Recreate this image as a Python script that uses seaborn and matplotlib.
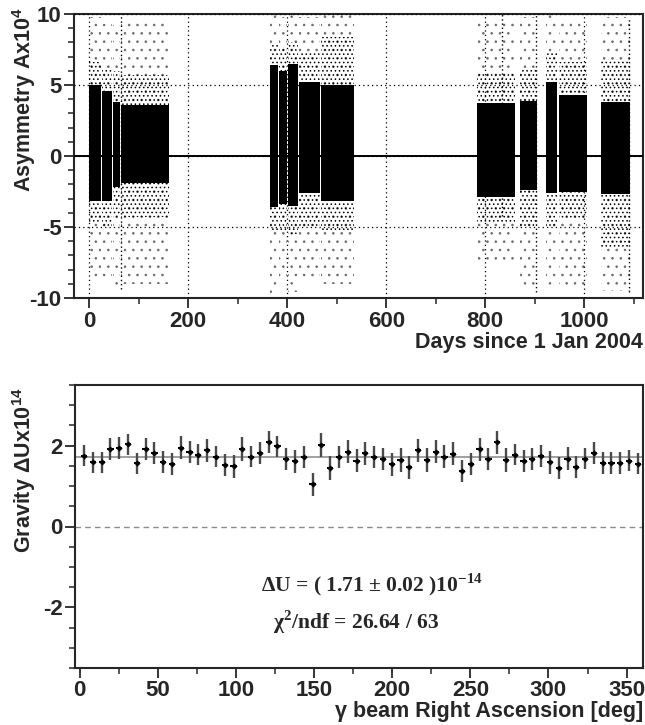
import numpy as np
import seaborn as sns
from matplotlib import pyplot as plt
from matplotlib.ticker import MultipleLocator

# ---- top panel: data-taking periods (days since 1 Jan 2004) and spread of the asymmetry cloud (x1e4)
run_start = [0, 26, 48, 64, 365, 383, 402, 423, 469, 783, 871, 923, 950, 1034]
run_end = [24, 46, 62, 160, 381, 400, 421, 467, 534, 860, 904, 946, 1005, 1092]
core_lo = [-3.2, -3.2, -2.2, -1.9, -3.6, -3.4, -3.5, -2.6, -3.2, -2.9, -2.4, -2.6, -2.5, -2.7]
core_hi = [5.0, 4.6, 3.8, 3.6, 6.4, 6.0, 6.5, 5.2, 5.0, 3.7, 3.9, 5.2, 4.3, 3.8]
halo_lo = [-4.8, -5.0, -4.5, -4.3, -5.3, -5.3, -5.5, -5.0, -5.3, -4.8, -5.0, -5.0, -4.5, -6.4]
halo_hi = [6.6, 6.2, 6.0, 5.7, 7.8, 7.6, 8.0, 7.4, 8.4, 5.8, 6.1, 7.4, 6.6, 6.8]
tail_lo = [-8.6, -8.8, -9.2, -9.0, -9.8, -8.5, -9.6, -8.8, -9.0, -7.5, -9.2, -9.4, -9.3, -9.5]
tail_hi = [9.8, 9.3, 9.2, 9.6, 9.9, 9.8, 9.9, 9.8, 9.9, 9.5, 9.8, 9.9, 9.6, 9.8]
streak_day = [63, 834, 902, 1091]
streak_lo = [-9.4, -4.2, -9.6, -9.6]
streak_hi = [10.0, 10.0, 10.0, 9.8]

# ---- bottom panel: gravity potential shift per RA bin (x1e14)
n_bins = 64
du = [1.75, 1.59, 1.59, 1.91, 1.94, 2.03, 1.57, 1.91, 1.81, 1.59, 1.55, 1.95, 1.85, 1.78, 1.88,
      1.73, 1.52, 1.49, 1.92, 1.73, 1.81, 2.08, 1.98, 1.67, 1.61, 1.72, 1.04, 2.02, 1.45, 1.72, 1.85,
      1.63, 1.81, 1.72, 1.67, 1.54, 1.65, 1.46, 1.88, 1.65, 1.85, 1.73, 1.80, 1.37, 1.54, 1.91, 1.67,
      2.08, 1.65, 1.78, 1.63, 1.67, 1.75, 1.59, 1.45, 1.68, 1.47, 1.68, 1.82, 1.57, 1.57, 1.57, 1.63, 1.55]
du_err = [0.26, 0.26, 0.26, 0.27, 0.27, 0.26, 0.26, 0.27, 0.27, 0.27, 0.27, 0.28, 0.27, 0.27, 0.28,
          0.27, 0.28, 0.28, 0.29, 0.27, 0.27, 0.27, 0.27, 0.27, 0.28, 0.27, 0.28, 0.30, 0.30, 0.27, 0.29,
          0.29, 0.29, 0.28, 0.28, 0.29, 0.29, 0.28, 0.28, 0.29, 0.29, 0.28, 0.29, 0.28, 0.27, 0.29, 0.28,
          0.28, 0.29, 0.27, 0.27, 0.27, 0.27, 0.28, 0.28, 0.28, 0.28, 0.27, 0.27, 0.27, 0.28, 0.27, 0.26, 0.26]
fit_value = 1.71
ra_edges = np.linspace(0, 360, n_bins + 1)
ra_center = 0.5 * (ra_edges[:-1] + ra_edges[1:])

sns.set_style("ticks")
plt.rcParams["font.family"] = ["Liberation Sans", "DejaVu Sans"]
plt.rcParams["font.weight"] = "bold"
plt.rcParams["axes.unicode_minus"] = False
plt.rcParams["mathtext.fontset"] = "custom"
plt.rcParams["mathtext.sf"] = "Liberation Sans:bold"
plt.rcParams["mathtext.rm"] = "Liberation Serif:bold"
plt.rcParams["hatch.linewidth"] = 0.6

fig = plt.figure(figsize=(6.45, 7.25), dpi=100)
ax1 = fig.add_axes([74 / 645, 1 - 298 / 725, 569 / 645, 284 / 725])
ax2 = fig.add_axes([75 / 645, 1 - 668 / 725, 568 / 645, 283 / 725])

# ---- top panel
start = np.array(run_start)
width = np.array(run_end) - start
ax1.bar(start, np.array(tail_hi) - np.array(tail_lo), width=width, bottom=tail_lo, align="edge",
        color="none", edgecolor="#6a6a6a", hatch="..", linewidth=0, zorder=2)
ax1.bar(start, np.array(halo_hi) - np.array(halo_lo), width=width, bottom=halo_lo, align="edge",
        color="none", edgecolor="black", hatch="....", linewidth=0, zorder=3)
ax1.bar(start, np.array(core_hi) - np.array(core_lo), width=width, bottom=core_lo, align="edge",
        color="black", linewidth=0, zorder=4)
ax1.vlines(streak_day, streak_lo, streak_hi, colors="black", linestyles=(0, (1, 2)), lw=1.0, zorder=4)
ax1.axhline(0, color="black", lw=1.4, zorder=5)

ax1.set_xlim(-31, 1119)
ax1.set_ylim(-10, 10)
ax1.xaxis.set_major_locator(MultipleLocator(200))
ax1.xaxis.set_minor_locator(MultipleLocator(100))
ax1.yaxis.set_major_locator(MultipleLocator(5))
ax1.yaxis.set_minor_locator(MultipleLocator(1))
ax1.grid(True, which="major", color="black", linestyle=(0, (1, 2.5)), lw=0.9)
ax1.set_axisbelow(False)
ax1.set_xlabel("Days since 1 Jan 2004", loc="right", fontsize=15.5, fontweight="bold", labelpad=0)
ax1.set_ylabel(r"Asymmetry Ax10$^{\mathsf{4}}$", loc="top", fontsize=15.5, fontweight="bold")
ax1.yaxis.set_label_coords(-0.064, 1.025)

# ---- bottom panel
ax2.axhline(0, color="#8a8a8a", lw=1.0, linestyle=(0, (4, 3)), zorder=1)
ax2.axhline(fit_value, color="#999999", lw=1.3, zorder=1)
ax2.errorbar(ra_center, du, yerr=du_err, fmt="none", ecolor="#4a4a4a", elinewidth=1.7, capsize=0, zorder=3)
ax2.errorbar(ra_center, du, xerr=2.0, fmt="none", ecolor="black", elinewidth=1.5, capsize=0, zorder=4)
sns.scatterplot(x=ra_center, y=du, ax=ax2, color="black", marker="D", s=10, linewidth=0, zorder=5)

ax2.set_xlim(-3, 360.5)
ax2.set_ylim(-3.5, 3.5)
ax2.xaxis.set_major_locator(MultipleLocator(50))
ax2.xaxis.set_minor_locator(MultipleLocator(25))
ax2.yaxis.set_major_locator(MultipleLocator(2))
ax2.yaxis.set_minor_locator(MultipleLocator(0.5))
ax2.set_xlabel("γ beam Right Ascension [deg]", loc="right", fontsize=15.5, fontweight="bold", labelpad=0)
ax2.set_ylabel(r"Gravity ΔUx10$^{\mathsf{14}}$", loc="top", fontsize=15.5, fontweight="bold")
ax2.yaxis.set_label_coords(-0.065, 0.993)

ax2.text(187, -1.43, "ΔU = ( 1.71 ± 0.02 )10$^{\\mathrm{-14}}$", family="Liberation Serif",
         fontweight="bold", fontsize=15.5, ha="center", va="center")
ax2.text(177, -2.37, "χ$^{\\mathrm{2}}$/ndf = 26.64 / 63", family="Liberation Serif",
         fontweight="bold", fontsize=15.5, ha="center", va="center")

for ax in (ax1, ax2):
    for s in ax.spines.values():
        s.set_linewidth(1.5)
        s.set_visible(True)
    ax.tick_params(which="major", direction="out", length=7, width=1.3, labelsize=16, pad=2)
    ax.tick_params(which="minor", direction="out", length=4, width=1.1)

fig.savefig("out.png", dpi=100)
